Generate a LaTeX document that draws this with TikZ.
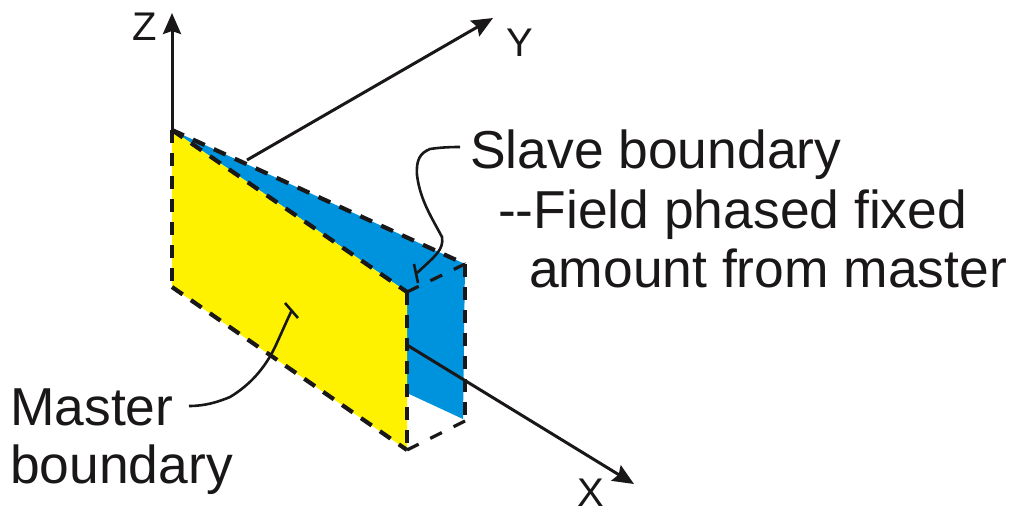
\documentclass[tikz,border=0pt]{standalone}
\usepackage{fontspec}
\setmainfont{Liberation Sans}
\usetikzlibrary{arrows.meta}
\definecolor{cMaster}{HTML}{FFF200}
\definecolor{cSlave}{HTML}{0093DD}
\definecolor{cInk}{HTML}{1A1718}
\tikzset{
  masterface/.style = {fill=cMaster},
  slaveface/.style  = {fill=cSlave},
  edge/.style       = {draw=cInk, line width=4.2pt, dash pattern=on 13pt off 10pt},
  thinedge/.style   = {draw=cInk, line width=3.2pt, dash pattern=on 13pt off 13pt},
  axis/.style       = {draw=cInk, line width=3pt, -{Stealth[length=21pt, width=18pt, inset=3pt]}},
  leader/.style     = {draw=cInk, line width=2.6pt},
  lbl/.style        = {anchor=base west, inner sep=0pt, text=cInk, font=\fontsize{53.4}{60}\selectfont},
  axislbl/.style    = {lbl, font=\fontsize{40}{46}\selectfont},
}

\begin{document}
\begin{tikzpicture}[x=1pt, y=-1pt]
  \useasboundingbox (0,0) rectangle (1012,509);
  % corners of the two faces
  \coordinate (a) at (172,130);
  \coordinate (b) at (407,292);
  \coordinate (c) at (407,450);
  \coordinate (d) at (172,287);
  \coordinate (e) at (465,264);
  \coordinate (f) at (465,421);
  % faces
  \fill[slaveface] (a) -- (e) -- (463,419) -- (407,393) -- (b) -- cycle;
  \fill[masterface] (a) -- (b) -- (c) -- (d) -- cycle;
  % edges
  \draw[edge] (a) -- (b);
  \draw[edge] (a) -- (e);
  \draw[edge] (a) -- (d);
  \draw[edge] (d) -- (c);
  \draw[edge] (b) -- (c);
  \draw[edge] (e) -- (f);
  \draw[thinedge] (b) -- (e);
  \draw[thinedge] (c) -- (f);
  % axes
  \coordinate (ybase) at (247,160);
  \coordinate (xbase) at (407,345);
  \node[axislbl] (zlbl) at (132,40) {Z};
  \node[axislbl] (ylbl) at (506,56) {Y};
  \node[axislbl] (xlbl) at (577,506) {X};
  \coordinate (ztip) at (172,13);
  \coordinate (ytip) at (493,18);
  \coordinate (xtip) at (634,484);
  \draw[axis] (a) -- (ztip);
  \draw[axis] (ybase) -- (ytip);
  \draw[axis] (xbase) -- (xtip);
  % labels
  \node[lbl] (slave) at (470,168) {Slave boundary};
  \node[lbl] (field) at (498,228) {{-}{-}Field phased fixed};
  \node[lbl] (amount) at (529,287) {amount from master};
  \node[lbl] (master) at (10,425) {Master};
  \node[lbl] (bound) at (10,483) {boundary};
  % leaders
  \coordinate (slavetick) at (417,273);
  \coordinate (mastertick) at (292,310);
  \draw[leader] (460,147) .. controls (445,147) and (437,148) .. (430,149)
    .. controls (420,153) and (416,160) .. (417,175)
    .. controls (420,200) and (432,218) .. (442,237)
    .. controls (444,250) and (435,256) .. (slavetick);
  \draw[leader] (414,264) -- (418,283);
  \draw[leader] (189,406) .. controls (205,406) and (218,402) .. (230,397)
    .. controls (250,385) and (265,368) .. (275,347)
    .. controls (282,332) and (287,320) .. (mastertick);
  \draw[leader] (285,303) -- (298,318);
\end{tikzpicture}
\end{document}
